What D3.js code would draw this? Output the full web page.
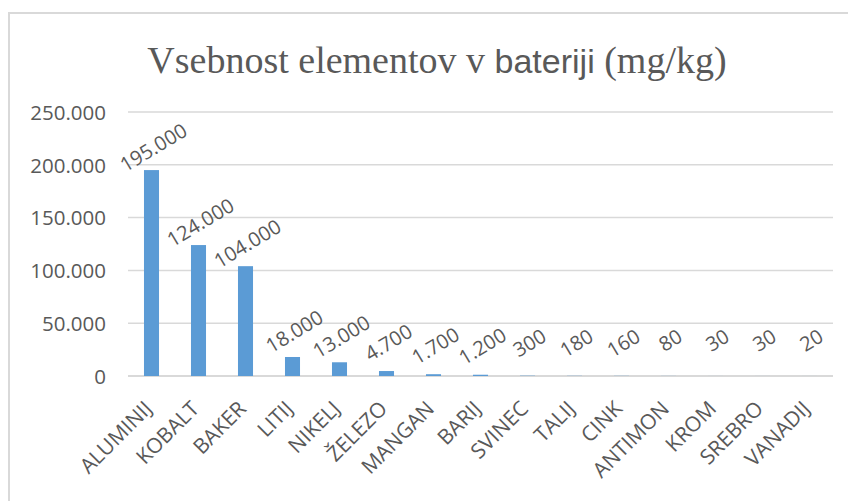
<!DOCTYPE html>
<html>
<head>
<meta charset="UTF-8">
<title>Vsebnost elementov v bateriji</title>
<script src="https://cdn.jsdelivr.net/npm/d3@7"></script>
<style>
  body { margin: 0; background: #fff; }
  svg text { fill: #595959; }
</style>
</head>
<body>
<svg id="chart" width="848" height="501"></svg>
<script>
// podatki
var elementi = ["ALUMINIJ", "KOBALT", "BAKER", "LITIJ", "NIKELJ", "ŽELEZO", "MANGAN", "BARIJ",
                "SVINEC", "TALIJ", "CINK", "ANTIMON", "KROM", "SREBRO", "VANADIJ"];
var vsebnost = [195000, 124000, 104000, 18000, 13000, 4700, 1700, 1200, 300, 180, 160, 80, 30, 30, 20];
var yTicks = [0, 50000, 100000, 150000, 200000, 250000];

var svg = d3.select("#chart");
var fmt = d3.formatLocale({ decimal: ",", thousands: ".", grouping: [3], currency: ["", "€"] }).format(",d");

// okvir
svg.append("rect")
  .attr("x", 9).attr("y", 13).attr("width", 860).attr("height", 520)
  .attr("fill", "none").attr("stroke", "#d9d9d9").attr("stroke-width", 2);

// naslov
var title = svg.append("text")
  .attr("x", 437).attr("y", 73)
  .attr("text-anchor", "middle")
  .style("font-size", "38px")
  .style("font-family", "'Liberation Serif', 'Times New Roman', serif");
title.append("tspan").text("Vsebnost elementov v ");
title.append("tspan").style("font-family", "'Liberation Sans Narrow', 'Liberation Sans', sans-serif").style("font-size", "34px").text("bateriji");
title.append("tspan").text(" (mg/kg)");

var x = d3.scaleBand().domain(elementi).range([128, 833]).paddingInner(0.68).paddingOuter(0.34);
var y = d3.scaleLinear().domain([0, 250000]).range([376, 112]);

// mreža
svg.append("g").selectAll("line").data(yTicks).enter().append("line")
  .attr("x1", 128).attr("x2", 833)
  .attr("y1", function(d){ return y(d); }).attr("y2", function(d){ return y(d); })
  .attr("stroke", "#d9d9d9").attr("stroke-width", function(d){ return d == 0 ? 2 : 1.5; });

// os y
var yAxis = svg.append("g").attr("transform", "translate(106,0)")
  .call(d3.axisLeft(y).tickValues(yTicks).tickSize(0).tickPadding(0).tickFormat(fmt));
yAxis.select(".domain").remove();
yAxis.selectAll("text")
  .style("font-family", "'Open Sans', sans-serif").style("font-size", "20.5px").attr("dy", "0.36em");

// stolpci
svg.append("g").selectAll("rect").data(vsebnost).enter().append("rect")
  .attr("x", function(d, i){ return x(elementi[i]); })
  .attr("width", x.bandwidth())
  .attr("y", function(d){ return y(d); })
  .attr("height", function(d){ return y(0) - y(d); })
  .attr("fill", "#5b9bd5");

// oznake vrednosti - vrh zasukanega okvirja ~48px nad stolpcem
var kot = 31, rad = kot * Math.PI / 180, visina = 15;
svg.append("g").selectAll("text").data(vsebnost).enter().append("text")
  .attr("text-anchor", "middle").attr("dy", "0.35em")
  .style("font-family", "'Open Sans', sans-serif").style("font-size", "20px")
  .text(function(d){ return fmt(d); })
  .attr("transform", function(d, i){
    var L = this.getComputedTextLength();
    var H = L * Math.sin(rad) + visina * Math.cos(rad);
    var cx = x(elementi[i]) + x.bandwidth() / 2 + 2;
    var cy = y(d) - 48 + H / 2;
    return "translate(" + cx + "," + cy + ") rotate(" + (-kot) + ")";
  });

// os x
var xAxis = svg.append("g").attr("transform", "translate(0,376)")
  .call(d3.axisBottom(x).tickSize(0).tickPadding(0));
xAxis.select(".domain").remove();
xAxis.selectAll("text")
  .attr("text-anchor", "end")
  .attr("y", 0).attr("dy", 0)
  .attr("transform", "translate(2,34) rotate(-45)")
  .style("font-family", "'Open Sans', sans-serif").style("font-size", "21px");
</script>
</body>
</html>
